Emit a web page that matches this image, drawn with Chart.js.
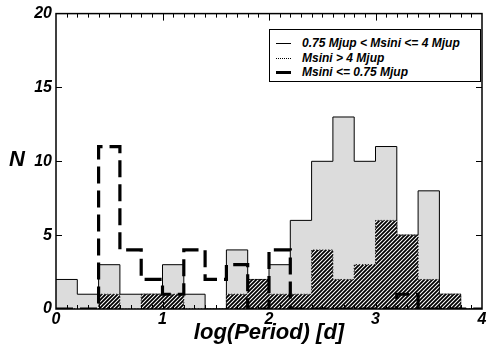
<!DOCTYPE html>
<html>
<head>
<meta charset="utf-8">
<script src="https://cdn.jsdelivr.net/npm/chart.js@4.4.0/dist/chart.umd.min.js"></script>
<style>
  html, body { margin: 0; padding: 0; background: #fff; }
  #wrap { position: relative; width: 488px; height: 360px; font-family: "Liberation Sans", Arial, sans-serif; }
  #yTitle { position: absolute; left: 9px; top: 146px; font: italic bold 22px "Liberation Sans", Arial, sans-serif; }
  #legend { position: absolute; left: 269px; top: 29px; width: 210px; height: 51px; border: 1px solid #000; background: #fff; }
  .row { position: absolute; left: 0; height: 14px; font: italic bold 12px "Liberation Sans", Arial, sans-serif; line-height: 14px; }
  .row span.sample { position: absolute; left: 6px; width: 15px; top: 7px; }
  .row span.txt { position: absolute; left: 32px; top: 0; white-space: nowrap; }
</style>
</head>
<body>
<div id="wrap">
  <canvas id="histChart" width="488" height="360"></canvas>
  <div id="yTitle">N</div>
  <div id="legend"></div>
</div>
<script>
// histogram bins of log(Period), left edges, width 0.2
const binEdges = [0, 0.2, 0.4, 0.6, 0.8, 1.0, 1.2, 1.4, 1.6, 1.8, 2.0, 2.2, 2.4, 2.6, 2.8, 3.0, 3.2, 3.4, 3.6, 3.8];
const binEnd = 4.0;

// counts per bin
const midMass  = [2, 1, 3, 1, 1, 3, 1, 0, 4, 2, 3, 6, 10, 13, 10, 11, 5, 8, 1, 0];  // 0.75 < Msini <= 4
const highMass = [0, 0, 1, 0, 1, 1, 0, 0, 1, 2, 1, 1, 4, 2, 3, 6, 5, 2, 1, 0];      // Msini > 4
const lowMass  = [0, 0, 11, 4, 2, 1, 4, 2, 3, 0, 4, 0, 0, 0, 0, 0, 1, 0, 0, 0];     // Msini <= 0.75

const xTicks = [0, 1, 2, 3, 4];
const yTicks = [0, 5, 10, 15, 20];
const legendLabels = ['0.75 Mjup < Msini <= 4 Mjup', 'Msini > 4 Mjup', 'Msini <= 0.75 Mjup'];

const FONT = '"Liberation Sans", Arial, sans-serif';

// points at left bin edges, closed at the last edge
function toSteps(vals) {
  const pts = binEdges.map((x, i) => ({ x: x, y: vals[i] }));
  pts.push({ x: binEnd, y: 0 });
  return pts;
}

function makeHatch() {
  const s = 4;
  const c = document.createElement('canvas');
  c.width = s; c.height = s;
  const g = c.getContext('2d');
  g.fillStyle = '#fff';
  g.fillRect(0, 0, s, s);
  g.strokeStyle = '#000';
  g.lineWidth = 1.8;
  g.beginPath();
  g.moveTo(-1, s + 1); g.lineTo(s + 1, -1);
  g.moveTo(-1, 1); g.lineTo(1, -1);
  g.moveTo(s - 1, s + 1); g.lineTo(s + 1, s - 1);
  g.stroke();
  return g.createPattern(c, 'repeat');
}

// box round the plot and inward tick marks
const framePlugin = {
  id: 'frame',
  afterDatasetsDraw(chart) {
    const { ctx, chartArea: a, scales } = chart;
    const xs = scales.x, ys = scales.y;
    ctx.save();
    ctx.strokeStyle = '#000';
    ctx.lineWidth = 1.5;
    ctx.strokeRect(a.left, a.top, a.right - a.left, a.bottom - a.top);
    ctx.lineWidth = 1;
    ctx.beginPath();
    for (let k = 1; k < 40; k++) {
      const v = k / 10;
      const px = Math.round(xs.getPixelForValue(v)) + 0.5;
      const len = (k % 10 === 0) ? 7 : 4;
      ctx.moveTo(px, a.bottom); ctx.lineTo(px, a.bottom - len);
      ctx.moveTo(px, a.top); ctx.lineTo(px, a.top + len);
    }
    yTicks.slice(1, -1).forEach(v => {
      const py = Math.round(ys.getPixelForValue(v)) + 0.5;
      ctx.moveTo(a.left, py); ctx.lineTo(a.left + 6, py);
      ctx.moveTo(a.right, py); ctx.lineTo(a.right - 6, py);
    });
    ctx.stroke();
    ctx.restore();
  }
};

new Chart(document.getElementById('histChart'), {
  type: 'line',
  data: {
    datasets: [
      {
        label: legendLabels[2],
        data: toSteps(lowMass),
        stepped: true,
        fill: false,
        borderColor: '#000',
        borderWidth: 3.2,
        borderDash: [17, 7],
        pointRadius: 0,
        order: 0
      },
      {
        label: legendLabels[1],
        data: toSteps(highMass),
        stepped: true,
        fill: 'origin',
        backgroundColor: makeHatch(),
        borderColor: '#000',
        borderWidth: 1,
        borderDash: [1, 2],
        pointRadius: 0,
        order: 1
      },
      {
        label: legendLabels[0],
        data: toSteps(midMass),
        stepped: true,
        fill: 'origin',
        backgroundColor: '#dcdcdc',
        borderColor: '#000',
        borderWidth: 1,
        pointRadius: 0,
        order: 2
      }
    ]
  },
  options: {
    responsive: false,
    animation: false,
    layout: { autoPadding: false, padding: { top: 11, right: 6, left: 0, bottom: 0 } },
    plugins: { legend: { display: false }, tooltip: { enabled: false } },
    scales: {
      x: {
        type: 'linear',
        min: 0, max: 4,
        afterFit: s => { s.height = 51; },
        afterBuildTicks: s => { s.ticks = xTicks.map(v => ({ value: v })); },
        grid: { display: false, drawTicks: false, tickLength: 0 },
        border: { display: false },
        ticks: { color: '#000', padding: 1, maxRotation: 0, font: { family: FONT, size: 16, style: 'italic', weight: 'bold' } },
        title: { display: true, text: 'log(Period) [d]', color: '#000', padding: { top: 0, bottom: 14 }, font: { family: FONT, size: 22, style: 'italic', weight: 'bold' } }
      },
      y: {
        min: 0, max: 20,
        afterFit: s => { s.width = 56; },
        afterBuildTicks: s => { s.ticks = yTicks.map(v => ({ value: v })); },
        grid: { display: false, drawTicks: false, tickLength: 0 },
        border: { display: false },
        ticks: { color: '#000', padding: 4, font: { family: FONT, size: 16, style: 'italic', weight: 'bold' } }
      }
    }
  },
  plugins: [framePlugin]
});

// legend box, drawn as page text
const samples = [
  'border-top: 1px solid #000; top: 7px;',
  'border-top: 1px dotted #000; top: 7px;',
  'border-top: 3px solid #000; top: 6px;'
];
const legendEl = document.getElementById('legend');
legendLabels.forEach((lab, i) => {
  const row = document.createElement('div');
  row.className = 'row';
  row.style.top = (6 + i * 14.5) + 'px';
  row.innerHTML = '<span class="sample" style="' + samples[i] + '"></span><span class="txt">' +
    lab.replace(/</g, '&lt;') + '</span>';
  legendEl.appendChild(row);
});
</script>
</body>
</html>
